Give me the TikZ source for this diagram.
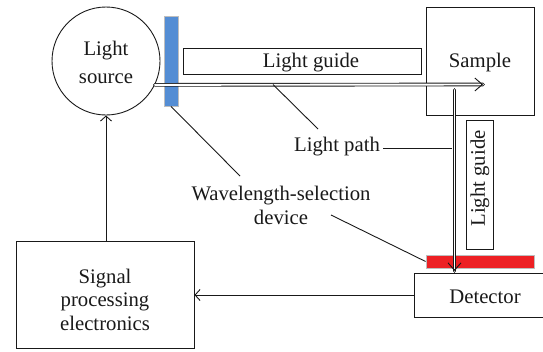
\documentclass[tikz,border=0pt]{standalone}
\usepackage{fontspec}
\setmainfont{Liberation Serif}
\usetikzlibrary{arrows.meta,calc}
\definecolor{filterblue}{RGB}{84,141,212}
\definecolor{filterred}{RGB}{237,32,36}
\definecolor{edgegrey}{RGB}{190,190,190}
\definecolor{ink}{RGB}{25,25,25}
\begin{document}
\begin{tikzpicture}[x=1bp,y=-1bp,
  every node/.style={font=\fontsize{20.8}{23.5}\selectfont, text=ink},
  box/.style={draw=ink, line width=0.9bp, rectangle, inner sep=0pt},
  filterbar/.style={draw=edgegrey, line width=0.8bp, rectangle, inner sep=0pt},
  lead/.style={draw=ink, line width=0.9bp},
  sarrow/.style={draw=ink, line width=0.9bp, -{Straight Barb[length=5bp,width=11bp]}},
  dbl/.style={draw=ink, line width=0.9bp, double=white, double distance=1.9bp, line cap=round},
  dtip/.style={draw=ink, line width=0.9bp, -{Straight Barb[length=7.5bp,width=13bp]}}
]
\useasboundingbox (0,0) rectangle (543,351);

% nodes
\node[draw=ink, line width=0.9bp, circle, minimum size=108bp, inner sep=0pt] (src) at (106,61) {};
\node[align=center, anchor=base] (srct) at (106,83) {Light\\[4.5bp]source};
\node[filterbar, fill=filterblue, minimum width=14bp, minimum height=90bp] (blue) at (171,61) {};
\node[box, minimum width=238bp, minimum height=26bp] (lg1) at (302,61) {};
\node[anchor=base] (lg1t) at (311,67) {Light guide};
\node[box, minimum width=108bp, minimum height=108bp] (sample) at (480,61) {};
\node[anchor=base] (samplet) at (480,67) {Sample};
\node[box, minimum width=27bp, minimum height=129bp] (lg2) at (479.5,184.5) {};
\node[rotate=90] (lg2t) at (480,178.5) {Light guide};
\node[filterbar, fill=filterred, minimum width=108bp, minimum height=13bp] (red) at (480,261.5) {};
\node[box, minimum width=142bp, minimum height=44bp] (det) at (485,295) {};
\node[anchor=base] (dett) at (485,303) {Detector};
\node[box, minimum width=178bp, minimum height=107bp] (sig) at (105,294.5) {};
\node[align=center, anchor=base] (sigt) at (105,330) {Signal\\processing\\electronics};
\node[anchor=base] (lp) at (337,151) {Light path};
\node[align=center, anchor=base] (wl) at (281,224) {Wavelength-selection\\device};

% coordinates
\coordinate (tipA) at (483,84.5);
\coordinate (vstart) at (454.5,90);
\coordinate (tipB) at (454.5,271);
\coordinate (lpA) at (273,84.5);
\coordinate (lpB) at (318,129);
\coordinate (lpC) at (452,148);
\coordinate (wlA) at (240,176);
\coordinate (wlB) at (331,215);

% light paths (double lines)
\draw[dbl] (src.-26) -- (tipA);
\draw[dtip] ($(tipA)+(-2,0)$) -- (tipA);
\draw[dbl] (vstart) -- (tipB);
\draw[dtip] ($(tipB)+(0,-2)$) -- (tipB);

% electrical connections
\draw[sarrow] (det.west) -- (sig.east |- det.west);
\draw[sarrow] (sig.north -| src.south) -- (src.south);

% leader lines
\draw[lead] (lpA) -- (lpB);
\draw[lead] (lp.east |- lpC) -- (lpC);
\draw[lead] (blue.south) -- (wlA);
\draw[lead] (wlB) -- (red.west);
\end{tikzpicture}
\end{document}
